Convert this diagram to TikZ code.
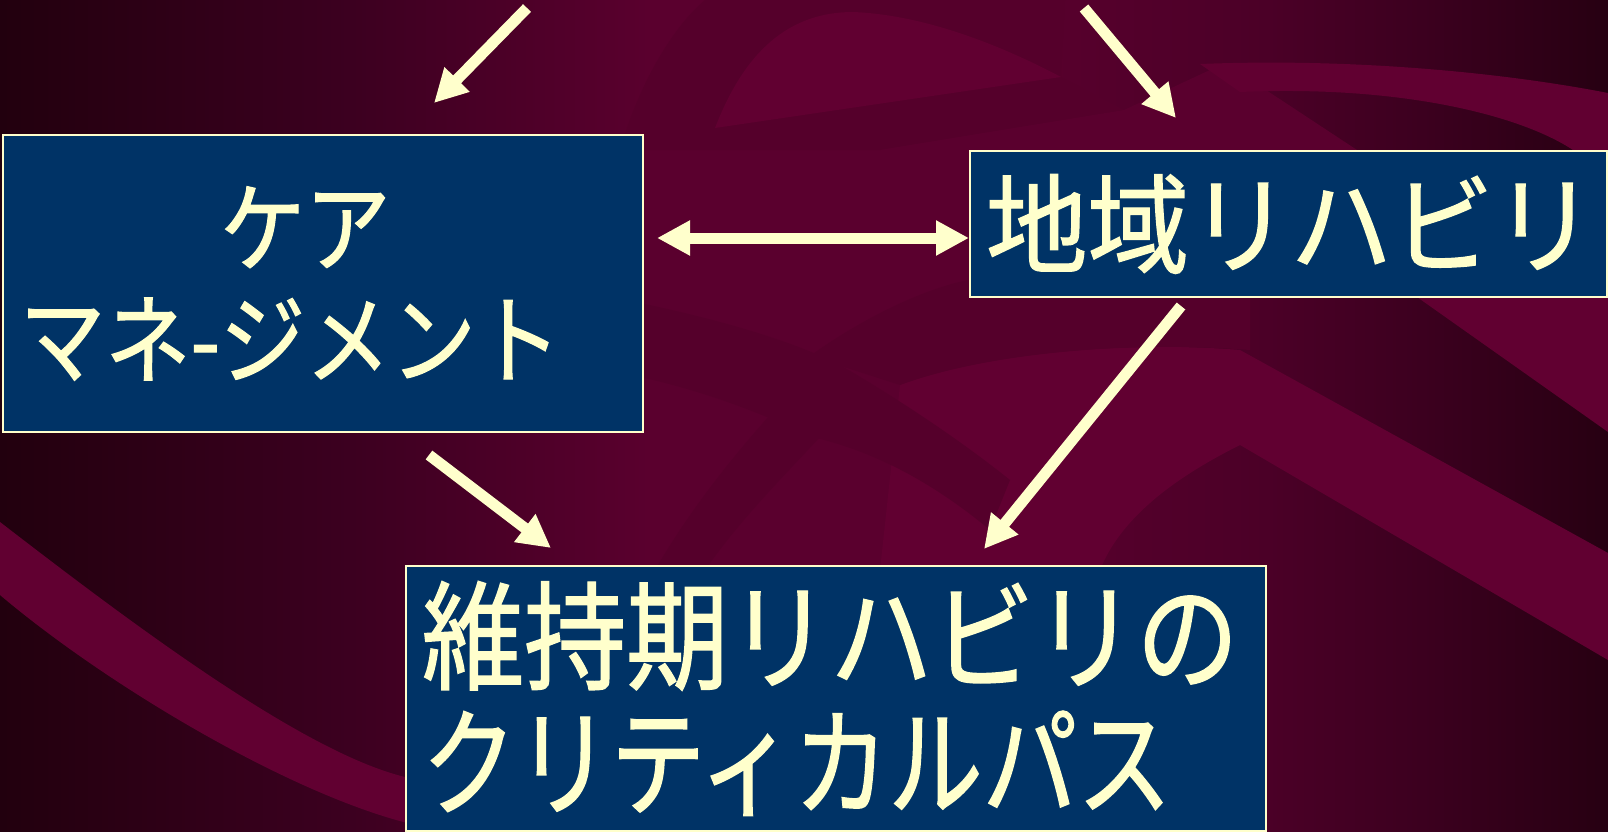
\documentclass[tikz,border=0pt]{standalone}
\usepackage{fontspec}
\newfontfamily\jpA[FakeStretch=0.87,FakeBold=1.2]{Noto Sans CJK JP}
\newfontfamily\jpB[FakeStretch=0.94,FakeBold=1.2]{Noto Sans CJK JP}
\newfontfamily\jpC[FakeStretch=0.865,FakeBold=1.2]{Noto Sans CJK JP}
\newfontfamily\jpD[FakeStretch=0.80,FakeBold=1.2]{Noto Sans CJK JP}
\usetikzlibrary{arrows.meta}
\definecolor{boxfill}{HTML}{003366}
\definecolor{txt}{HTML}{FFFFCC}
\definecolor{bandl}{HTML}{610031}
\definecolor{bandm}{HTML}{5A002E}
\definecolor{bandd}{HTML}{55002B}
\definecolor{g0}{HTML}{22000E}
\definecolor{g1}{HTML}{3C0020}
\definecolor{g2}{HTML}{5A002E}
\definecolor{g3}{HTML}{5A002E}
\definecolor{g4}{HTML}{4B0027}
\definecolor{g5}{HTML}{3C001F}
\definecolor{g6}{HTML}{270012}
\pgfdeclarehorizontalshading{bgshade}{100bp}{color(0bp)=(g0); color(25bp)=(g0); color(35.9bp)=(g1); color(45.2bp)=(g2); color(56.1bp)=(g3); color(64.4bp)=(g4); color(69.2bp)=(g5); color(75bp)=(g6); color(100bp)=(g6)}
\tikzset{
  box/.style={draw=txt, line width=2pt, fill=boxfill, text=txt, anchor=north west,
    align=left, inner ysep=0pt},
  arr/.style={draw=txt, line width=11pt, -{Triangle[length=33pt,width=33pt]}},
  darr/.style={draw=txt, line width=11pt, {Triangle[length=33pt,width=33pt]}-{Triangle[length=33pt,width=33pt]}},
}
\begin{document}
\begin{tikzpicture}[x=1pt,y=-1pt]
\useasboundingbox (0,0) rectangle (1608,832);
\shade[shading=bgshade] (0,0) rectangle (1608,832);
% background ribbons
\fill[bandd] (620,150) .. controls (640,80) and (675,25) .. (705,0) -- (1065,0) -- (1061,77) -- (1124,110) -- (880,150) -- cycle;
\fill[bandl] (715,128) .. controls (745,50) and (790,12) .. (853,12) .. controls (930,15) and (1010,50) .. (1061,77) -- cycle;
\fill[bandm] (880,150) -- (1124,110) -- (1225,63) -- (1357,150) -- cycle;
\fill[bandl] (1200,64) .. controls (1350,58) and (1500,72) .. (1608,93) -- (1608,150) -- (1573,150) .. controls (1520,115) and (1400,85) .. (1240,92) -- cycle;
\fill[bandl] (1417,297) -- (1608,432) -- (1608,297) -- cycle;
\fill[bandl] (900,385) .. controls (980,355) and (1120,340) .. (1240,350) -- (1608,553) -- (1608,660) -- (1240,445) .. controls (1170,480) and (1120,520) .. (1100,570) -- (880,570) -- cycle;
\fill[bandd] (810,356) .. controls (860,320) and (920,290) .. (968,280) -- (1250,280) -- (1250,350) .. controls (1120,340) and (980,355) .. (900,385) -- cycle;
\fill[bandd] (640,303) .. controls (720,320) and (790,340) .. (840,365) .. controls (900,400) and (960,440) .. (1010,480) -- (990,530) .. controls (930,480) and (870,450) .. (812,437) .. controls (760,412) and (700,390) .. (640,377) -- cycle;
\fill[bandd] (655,570) .. controls (690,510) and (730,460) .. (770,415) -- (820,437) .. controls (780,480) and (740,520) .. (705,570) -- cycle;
\fill[bandl] (0,522) .. controls (140,630) and (320,765) .. (420,780) -- (420,826) .. controls (300,800) and (110,688) .. (0,595) -- cycle;
% boxes
\node[box, minimum width=640pt, minimum height=297pt, text width=606pt, inner xsep=17pt,
  font=\jpA\fontsize{98}{112}\selectfont] (A) at (2,134) {\hspace*{200pt}ケア\\マネ-ジメント};
\node[box, minimum width=637pt, minimum height=146pt, text width=605pt, inner xsep=16pt,
  font=\jpB\fontsize{108}{120}\selectfont] (B) at (969,150) {\raisebox{-5pt}{地域リハビリ}};
\node[box, minimum width=860pt, minimum height=265pt, text width=828pt, inner xsep=16pt,
  font=\jpC\fontsize{118}{126}\selectfont] (C) at (405,565) {維持期リハビリの\\{\jpD クリティカルパス}};
% connector end points
\coordinate (a1s) at (527,8);
\coordinate (a1e) at (434,103);
\coordinate (a2s) at (1084,8);
\coordinate (a2e) at (1176,118);
\coordinate (dl) at (657,238);
\coordinate (a4s) at (429,455);
\coordinate (a4e) at (551,548);
\coordinate (a5s) at (1181,306);
\coordinate (a5e) at (984,549);
\draw[arr] (a1s) -- (a1e);
\draw[arr] (a2s) -- (a2e);
\draw[darr] (dl) -- (dl -| B.west);
\draw[arr] (a4s) -- (a4e);
\draw[arr] (a5s) -- (a5e);
\end{tikzpicture}
\end{document}
